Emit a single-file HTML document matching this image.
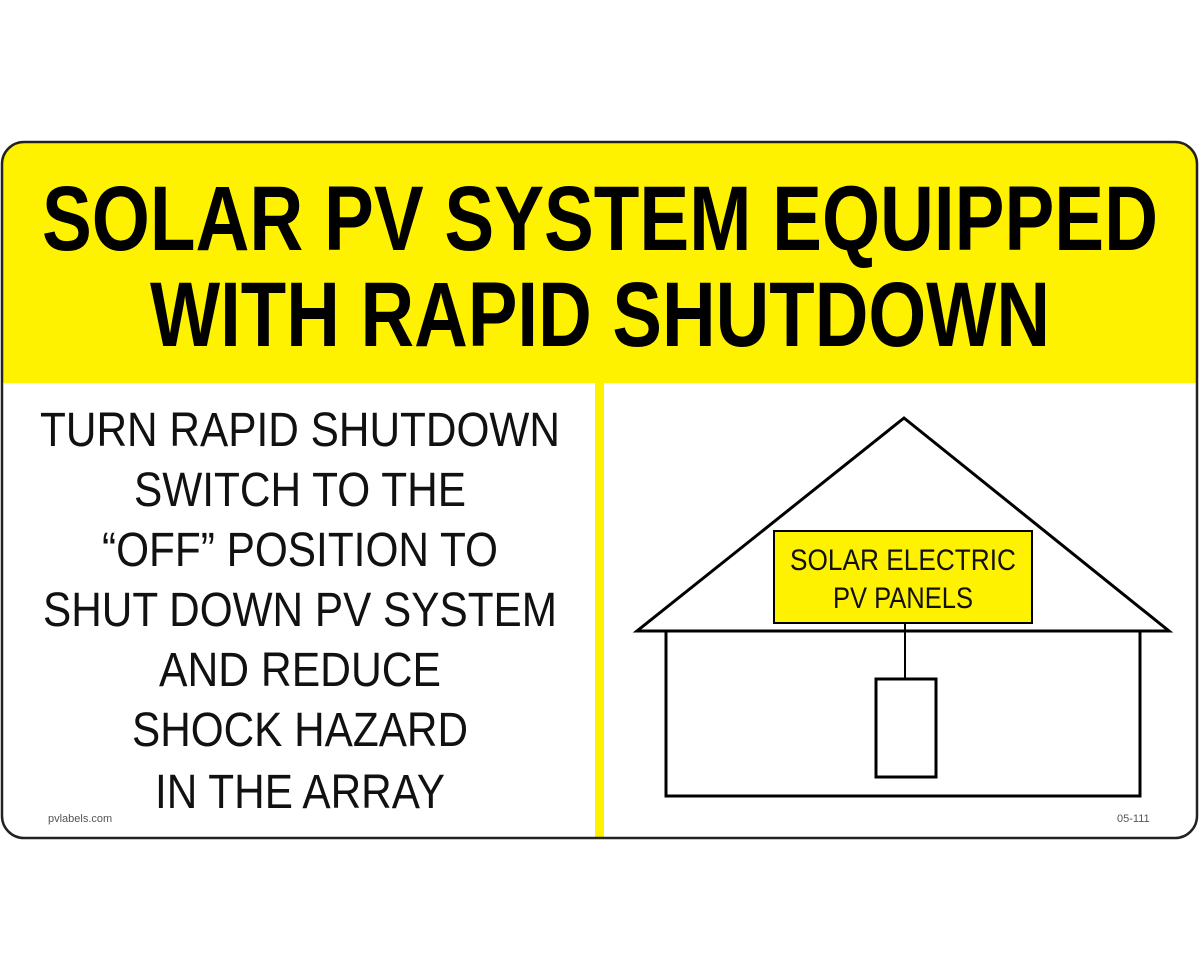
<!DOCTYPE html>
<html><head><meta charset="utf-8"><style>
html,body{margin:0;padding:0;background:#fff;}
svg{display:block;}
text{font-family:"Liberation Sans",Arial,sans-serif;}
</style></head><body>
<svg width="1200" height="978" viewBox="0 0 1200 978" xmlns="http://www.w3.org/2000/svg">
<defs><clipPath id="c"><rect x="2" y="142" width="1195" height="696" rx="22"/></clipPath></defs>
<g clip-path="url(#c)">
<rect x="2" y="142" width="1195" height="696" fill="#fff"/>
<rect x="2" y="142" width="1195" height="241" fill="#fff200"/>
<rect x="595" y="383" width="9" height="455" fill="#fff200"/>
</g>
<rect x="2" y="142" width="1195" height="696" rx="22" fill="none" stroke="#222" stroke-width="2.5"/>
<g font-weight="bold" font-size="92" fill="#000">
<text x="42" y="250" textLength="1116" lengthAdjust="spacingAndGlyphs">SOLAR PV SYSTEM EQUIPPED</text>
<text x="150" y="346" textLength="900" lengthAdjust="spacingAndGlyphs">WITH RAPID SHUTDOWN</text>
</g>
<g font-size="48" fill="#111" text-anchor="middle">
<text x="300" y="446" textLength="520" lengthAdjust="spacingAndGlyphs">TURN RAPID SHUTDOWN</text>
<text x="300" y="506" textLength="332" lengthAdjust="spacingAndGlyphs">SWITCH TO THE</text>
<text x="300" y="566" textLength="396" lengthAdjust="spacingAndGlyphs">“OFF” POSITION TO</text>
<text x="300" y="626" textLength="514" lengthAdjust="spacingAndGlyphs">SHUT DOWN PV SYSTEM</text>
<text x="300" y="686" textLength="282" lengthAdjust="spacingAndGlyphs">AND REDUCE</text>
<text x="300" y="746" textLength="336" lengthAdjust="spacingAndGlyphs">SHOCK HAZARD</text>
<text x="300" y="808" textLength="290" lengthAdjust="spacingAndGlyphs">IN THE ARRAY</text>
</g>
<text x="48" y="822" font-size="11" fill="#555">pvlabels.com</text>
<text x="1117" y="822" font-size="11" fill="#555">05-111</text>
<g fill="none" stroke="#000" stroke-width="3">
<polygon points="904,418 637,631 1169,631"/>
<rect x="666" y="631" width="474" height="165" fill="#fff"/>
<rect x="876" y="679" width="60" height="98"/>
<line x1="905" y1="623" x2="905" y2="679" stroke-width="2"/>
</g>
<rect x="774" y="531" width="258" height="92" fill="#fff200" stroke="#000" stroke-width="2"/>
<g font-size="30" fill="#111" text-anchor="middle">
<text x="903" y="570" textLength="226" lengthAdjust="spacingAndGlyphs">SOLAR ELECTRIC</text>
<text x="903" y="608" textLength="140" lengthAdjust="spacingAndGlyphs">PV PANELS</text>
</g>
</svg>
</body></html>
